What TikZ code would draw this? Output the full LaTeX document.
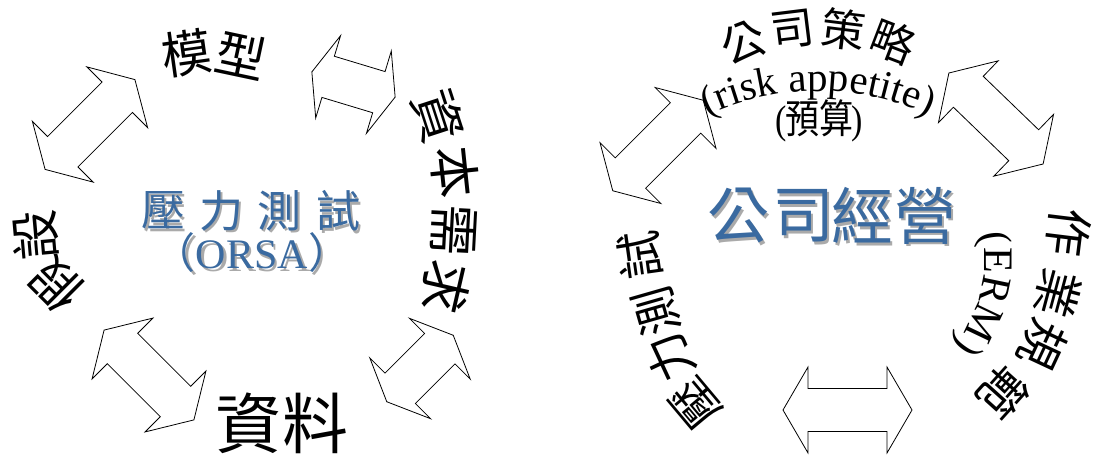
\documentclass[tikz,border=0pt]{standalone}
\usepackage{fontspec}
\setmainfont{Liberation Serif}
\newfontfamily\cjk{Noto Sans CJK TC}
\usetikzlibrary{decorations.text}
\definecolor{wablue}{RGB}{58,106,160}
\definecolor{shadowgray}{RGB}{170,170,170}
\tikzset{
  dblarrow/.style={draw=black, line width=0.8pt, fill=white, line join=miter},
  cj/.style={font=\cjk\fontsize{#1}{#1}\selectfont, inner sep=0pt, anchor=center},
  lat/.style={font=\fontsize{#1}{#1}\selectfont, inner sep=0pt, anchor=center},
}
\newcommand\blockarrow[5]{%
  \pgfmathsetmacro\arwA{#4/2}\pgfmathsetmacro\arwB{#4/2-#5}%
  \draw[dblarrow,shift={(#1,#2)},rotate=#3] (-\arwA,0) -- (-\arwB,43) -- (-\arwB,21.5) -- (\arwB,21.5) -- (\arwB,43) -- (\arwA,0) -- (\arwB,-43) -- (\arwB,-21.5) -- (-\arwB,-21.5) -- (-\arwB,-43) -- cycle;}
\newcommand\shadowed[1]{\rlap{\kern2.5pt\raisebox{-2.5pt}{\color{shadowgray}#1}}{\color{wablue}#1}}
\newcommand\shadowcj[5]{%
  \node[cj=#4] (#1) at (#2,#3) {\shadowed{#5}};}
\newcommand\orsatext{{\cjk （}ORSA{\cjk ）}}
\begin{document}
\begin{tikzpicture}[x=1pt,y=1pt]
\useasboundingbox (0,0) rectangle (1098,459);
\fill[white] (0,0) rectangle (1098,459);
% block arrows
\blockarrow{90}{334.5}{45}{127}{25}
\blockarrow{353.5}{374.5}{-16.8}{87}{17}
\blockarrow{149}{84}{-45}{127}{26}
\blockarrow{420}{90.5}{45}{94}{19}
\blockarrow{658}{313.5}{45}{128}{25}
\blockarrow{996}{340.5}{-44}{131}{27}
\blockarrow{847.5}{49}{0}{129}{25}
% left group
\node[cj=50,rotate=8] (mo) at (187,406) {模};
\node[cj=50,rotate=-12] (xing) at (241,404) {型};
\node[cj=52,rotate=-72] (zia) at (438,343) {資};
\node[cj=52,rotate=-84] (ben) at (455,287) {本};
\node[cj=52,rotate=-93] (xu) at (454,229) {需};
\node[cj=52,rotate=-103] (qiu) at (446,172) {求};
\node[cj=66] (zib) at (248,36) {資};
\node[cj=66] (liao) at (315,36) {料};
\node[cj=50,rotate=95] (she) at (35,224) {設};
\node[cj=50,rotate=135] (jia) at (57,174) {假};
\shadowcj{ca}{163}{247}{44}{壓}
\shadowcj{cb}{221}{247}{44}{力}
\shadowcj{cc}{279}{247}{44}{測}
\shadowcj{cd}{338}{247}{44}{試}
\node[lat=42] (orsa) at (252,205) {\shadowed{\orsatext}};
% right group
\foreach \ch/\ang [count=\k] in {公/111,司/97,策/83,略/69}
  \node[cj=44, rotate=\ang-90] (ts\k) at ([shift={(\ang:210)}]818,221) {\ch};
\path[decorate, decoration={text along path, text align=center, text color=black,
  text={|\fontsize{41}{41}\selectfont|(risk appetite)}}]
  ([shift={(120:260)}]818,108) arc[start angle=120, end angle=60, radius=260];
\node[lat=40, xscale=0.85] (yusuan) at (819,338) {(\kern-2pt{\cjk 預算}\kern-2pt)};
\node[cj=48, rotate=-97] (zuo) at (1069,226) {作};
\node[cj=48, rotate=-105] (ye) at (1058,166) {業};
\node[cj=48, rotate=-115] (gui) at (1043,114) {規};
\node[cj=48, rotate=-132] (fan) at (1003,66) {範};
\path[decorate, decoration={text along path, text align=center, text color=black,
  text={|\fontsize{42}{42}\selectfont|(ERM)}}]
  ([shift={(20:134)}]850,199) arc[start angle=20, end angle=-48, radius=134];
\node[cj=48, rotate=130] (yab) at (696,56) {壓};
\node[cj=48, rotate=115] (lib) at (670,102) {力};
\node[cj=48, rotate=106] (ceb) at (656,148) {測};
\node[cj=48, rotate=98] (shib) at (640,204) {試};
\shadowcj{ga}{738}{242}{62}{公}
\shadowcj{gb}{803}{242}{62}{司}
\shadowcj{gc}{862}{242}{62}{經}
\shadowcj{gd}{925}{242}{62}{營}
\end{tikzpicture}
\end{document}
